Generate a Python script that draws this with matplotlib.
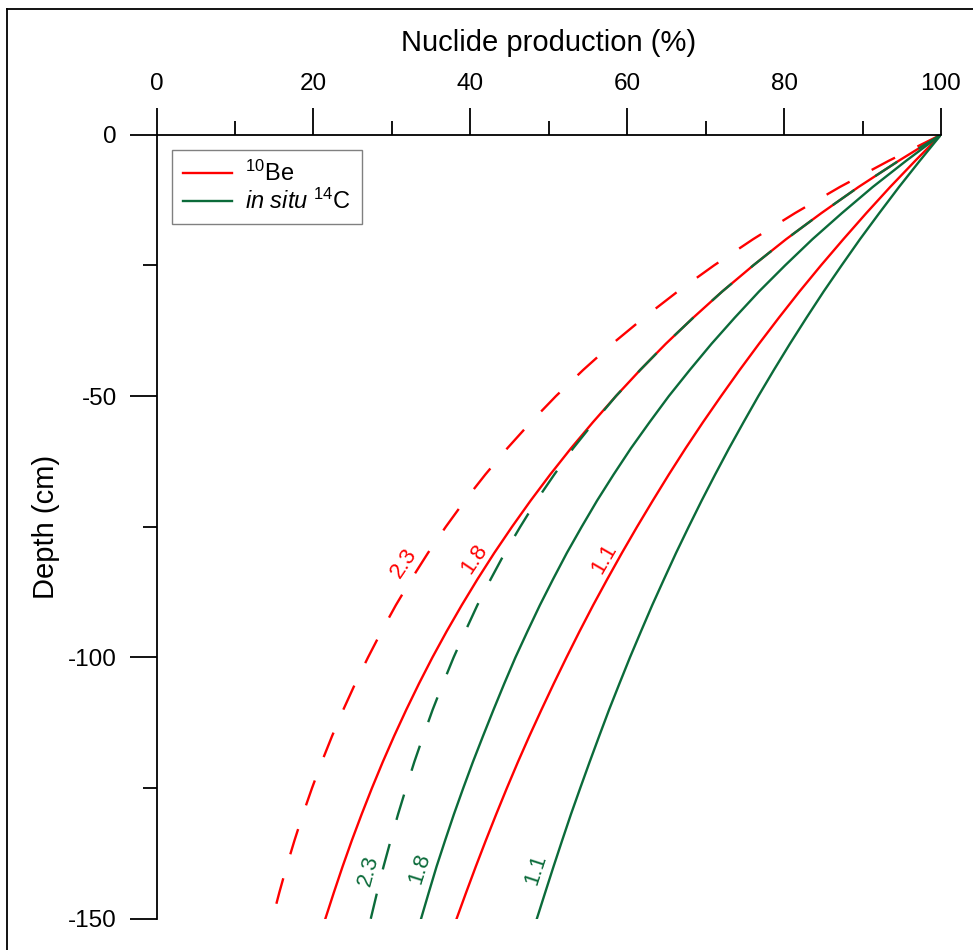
import matplotlib
matplotlib.use("Agg")
import matplotlib.pyplot as plt
from matplotlib.lines import Line2D
from matplotlib.ticker import MultipleLocator

plt.rcParams['font.family'] = ['Liberation Sans', 'DejaVu Sans']
plt.rcParams['mathtext.fontset'] = 'custom'
plt.rcParams['mathtext.rm'] = 'Liberation Sans'
plt.rcParams['mathtext.it'] = 'Liberation Sans:italic'
plt.rcParams['axes.unicode_minus'] = False
plt.rcParams['lines.scale_dashes'] = False

# ---- data ----
depth = [0, -5, -10, -15, -20, -25, -30, -35, -40, -45, -50, -55, -60, -65, -70, -75,
         -80, -85, -90, -95, -100, -105, -110, -115, -120, -125, -130, -135, -140, -145, -150]

be10_23 = [100, 93.33, 87.11, 81.39, 76.04, 71.07, 66.43, 62.13, 58.10, 54.39, 50.92, 47.71, 44.71,
           41.92, 39.30, 36.88, 34.61, 32.50, 30.51, 28.68, 26.96, 25.33, 23.81, 22.39, 21.06,
           19.82, 18.66, 17.59, 16.58, 15.65, 14.78]
be10_18 = [100, 94.60, 89.49, 84.75, 80.25, 76.07, 72.11, 68.42, 64.92, 61.66, 58.57, 55.63, 52.83,
           50.19, 47.69, 45.32, 43.06, 40.93, 38.91, 36.99, 35.17, 33.46, 31.84, 30.30, 28.84,
           27.46, 26.15, 24.90, 23.72, 22.60, 21.52]
be10_11 = [100, 96.71, 93.52, 90.48, 87.55, 84.70, 81.96, 79.34, 76.80, 74.34, 71.97, 69.66, 67.44,
           65.31, 63.26, 61.26, 59.33, 57.47, 55.66, 53.93, 52.26, 50.64, 49.07, 47.54, 46.07,
           44.66, 43.30, 41.98, 40.70, 39.46, 38.25]

c14_23 = [100, 94.60, 89.49, 84.75, 80.25, 76.07, 72.11, 68.42, 64.92, 61.66, 58.57, 55.77, 53.10,
          50.71, 48.43, 46.37, 44.40, 42.61, 40.90, 39.36, 37.87, 36.51, 35.20, 34.01, 32.86,
          31.81, 30.79, 29.85, 28.94, 28.11, 27.31]
c14_18 = [100, 95.55, 91.30, 87.37, 83.61, 80.13, 76.80, 73.71, 70.75, 67.98, 65.31, 62.85, 60.47,
          58.27, 56.16, 54.20, 52.31, 50.56, 48.87, 47.29, 45.75, 44.33, 42.96, 41.63, 40.33,
          39.10, 37.91, 36.79, 35.70, 34.70, 33.72]
c14_11 = [100, 97.29, 94.65, 92.13, 89.67, 87.33, 85.04, 82.86, 80.74, 78.70, 76.72, 74.83, 72.98,
          71.21, 69.49, 67.84, 66.23, 64.70, 63.19, 61.76, 60.35, 59.01, 57.69, 56.44, 55.21,
          54.01, 52.83, 51.71, 50.61, 49.54, 48.48]

density_labels = ["2.3", "1.8", "1.1"]
red_label_pos = [(31.6, -82.0, 56), (40.5, -81.2, 56), (57.1, -81.2, 60)]
green_label_pos = [(27.0, -140.7, 75), (33.6, -140.3, 72.5), (48.4, -140.6, 72)]

legend_labels = [r"$^{10}$Be", r"$\mathit{in\ situ}$ $^{14}$C"]
xticks = [0, 20, 40, 60, 80, 100]
yticks = [0, -50, -100, -150]

RED = '#ff0000'
GREEN = '#0b6b3a'

W, H = 973, 950
fig = plt.figure(figsize=(W / 100, H / 100), dpi=100)
x0, x1 = 156.5, 941.0
y0, y1 = 134.7, 918.8
ax = fig.add_axes([x0 / W, (H - y1) / H, (x1 - x0) / W, (y1 - y0) / H])

lw = 1.7
dash = (0, (19, 18))
ax.plot(be10_23, depth, color=RED, lw=lw, linestyle=dash)
ax.plot(be10_18, depth, color=RED, lw=lw)
ax.plot(be10_11, depth, color=RED, lw=lw)
ax.plot(c14_23, depth, color=GREEN, lw=lw, linestyle=dash)
ax.plot(c14_18, depth, color=GREEN, lw=lw)
ax.plot(c14_11, depth, color=GREEN, lw=lw)

for lab, (px, py, rot) in zip(density_labels, red_label_pos):
    ax.text(px, py, lab, color=RED, fontsize=16, rotation=rot,
            ha='center', va='center', rotation_mode='anchor')
for lab, (px, py, rot) in zip(density_labels, green_label_pos):
    ax.text(px, py, lab, color=GREEN, fontsize=16, rotation=rot,
            ha='center', va='center', rotation_mode='anchor')

ax.set_xlim(0, 100)
ax.set_ylim(-150, 0)
for s in ['right', 'bottom']:
    ax.spines[s].set_visible(False)
for s in ['top', 'left']:
    ax.spines[s].set_linewidth(1.3)
ax.xaxis.set_ticks_position('top')
ax.xaxis.set_label_position('top')
ax.set_xticks(xticks)
ax.set_yticks(yticks)
ax.xaxis.set_minor_locator(MultipleLocator(10))
ax.yaxis.set_minor_locator(MultipleLocator(25))
ax.tick_params(which='major', direction='out', length=19.5, width=1.3, labelsize=17.5, pad=9)
ax.tick_params(which='minor', direction='out', length=10, width=1.3)
ax.set_xlabel("Nuclide production (%)", fontsize=21, labelpad=16)
ax.set_ylabel("Depth (cm)", fontsize=21, labelpad=6)

handles = [Line2D([], [], color=RED, lw=lw), Line2D([], [], color=GREEN, lw=lw)]
leg = fig.legend(handles, legend_labels, loc='upper left',
                 bbox_to_anchor=(172 / W, 1 - 150 / H), bbox_transform=fig.transFigure,
                 borderaxespad=0, fontsize=17, frameon=True, fancybox=False,
                 edgecolor='#808080', framealpha=1, handlelength=2.1,
                 handletextpad=0.55, labelspacing=0.12, borderpad=0.45)
leg.get_frame().set_linewidth(1.0)

# outer frame (cropped at right and bottom)
fx = 7 / W
fy = 1 - 9 / H
fig.add_artist(Line2D([fx, fx], [0, fy], transform=fig.transFigure, color='black', lw=1.3))
fig.add_artist(Line2D([fx, 1], [fy, fy], transform=fig.transFigure, color='black', lw=1.3))

fig.savefig("out.png", dpi=100)
